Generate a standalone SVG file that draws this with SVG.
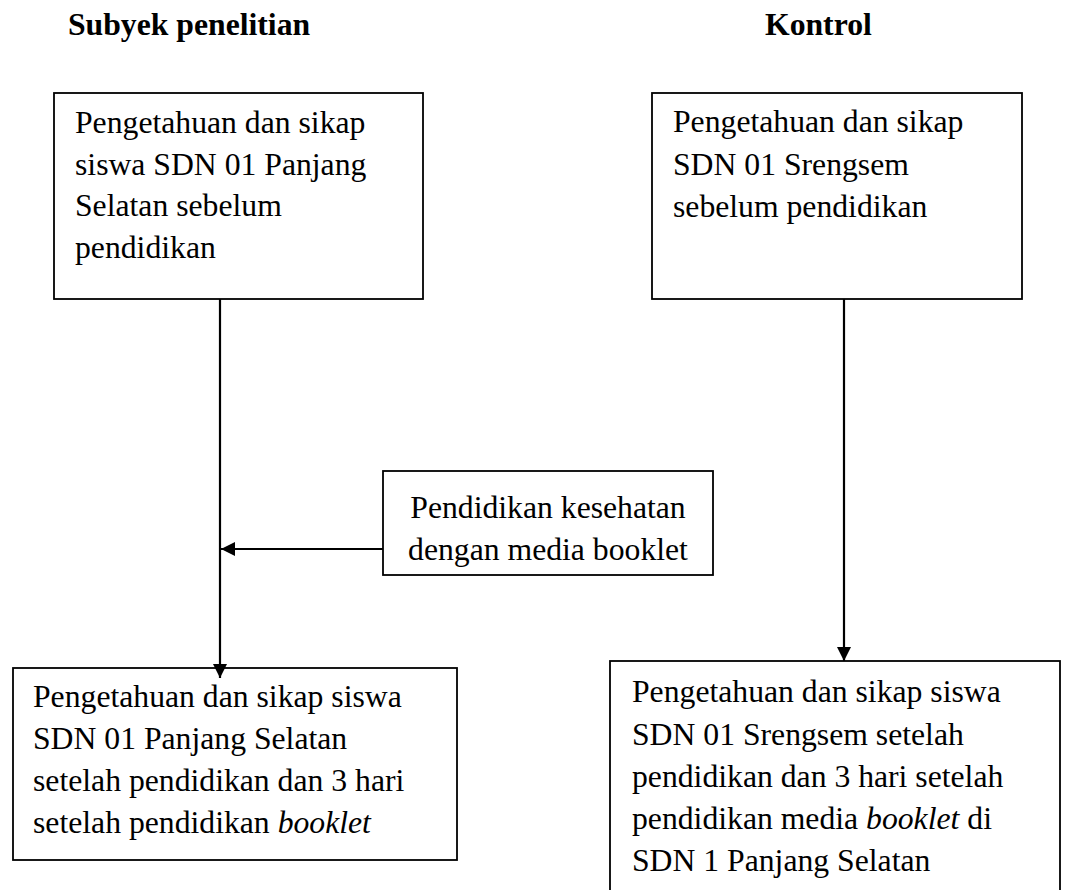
<svg xmlns="http://www.w3.org/2000/svg" width="1066" height="890" viewBox="0 0 1066 890">
<style>
.box{fill:#fff;stroke:#000;stroke-width:1.8}
.t{font-family:"Liberation Serif","Times New Roman",serif;font-size:31.7px;fill:#000}
.h{font-family:"Liberation Serif","Times New Roman",serif;font-size:31.7px;font-weight:bold;fill:#000}
.ln{stroke:#000;stroke-width:2.2;fill:none}
</style>
<defs>
<marker id="ah" markerUnits="userSpaceOnUse" markerWidth="15" markerHeight="14" refX="14" refY="7" orient="auto">
<path d="M0,0 L14,7 L0,14 Z" fill="#000"/>
</marker>
</defs>
<rect width="1066" height="890" fill="#fff"/>
<g id="titles">
<text class="h" x="68" y="35">Subyek penelitian</text>
<text class="h" x="765" y="35">Kontrol</text>
</g>
<g id="node-subyek-sebelum">
<rect class="box" x="54" y="93" width="369" height="206"/>
<text class="t" x="75" y="133">Pengetahuan dan sikap</text>
<text class="t" x="75" y="175">siswa SDN 01 Panjang</text>
<text class="t" x="75" y="216">Selatan sebelum</text>
<text class="t" x="75" y="258">pendidikan</text>
</g>
<g id="node-kontrol-sebelum">
<rect class="box" x="652" y="93" width="370" height="206"/>
<text class="t" x="673" y="132">Pengetahuan dan sikap</text>
<text class="t" x="673" y="175">SDN 01 Srengsem</text>
<text class="t" x="673" y="217">sebelum pendidikan</text>
</g>
<g id="node-pendidikan">
<rect class="box" x="383" y="471" width="330" height="104"/>
<text class="t" x="548" y="518" text-anchor="middle">Pendidikan kesehatan</text>
<text class="t" x="548" y="560" text-anchor="middle">dengan media booklet</text>
</g>
<g id="node-subyek-setelah">
<rect class="box" x="13" y="668" width="444" height="192"/>
<text class="t" x="33" y="707">Pengetahuan dan sikap siswa</text>
<text class="t" x="33" y="749">SDN 01 Panjang Selatan</text>
<text class="t" x="33" y="791">setelah pendidikan dan 3 hari</text>
<text class="t" x="33" y="833">setelah pendidikan <tspan font-style="italic">booklet</tspan></text>
</g>
<g id="node-kontrol-setelah">
<rect class="box" x="610" y="661" width="450" height="240"/>
<text class="t" x="632" y="702">Pengetahuan dan sikap siswa</text>
<text class="t" x="632" y="745">SDN 01 Srengsem setelah</text>
<text class="t" x="632" y="787">pendidikan dan 3 hari setelah</text>
<text class="t" x="632" y="829">pendidikan media <tspan font-style="italic">booklet</tspan> di</text>
<text class="t" x="632" y="871">SDN 1 Panjang Selatan</text>
</g>
<g id="connectors">
<line class="ln" x1="220" y1="299" x2="220" y2="678" marker-end="url(#ah)"/>
<line class="ln" x1="844" y1="299" x2="844" y2="661" marker-end="url(#ah)"/>
<line class="ln" x1="383" y1="549" x2="221" y2="549" marker-end="url(#ah)"/>
</g>
</svg>
